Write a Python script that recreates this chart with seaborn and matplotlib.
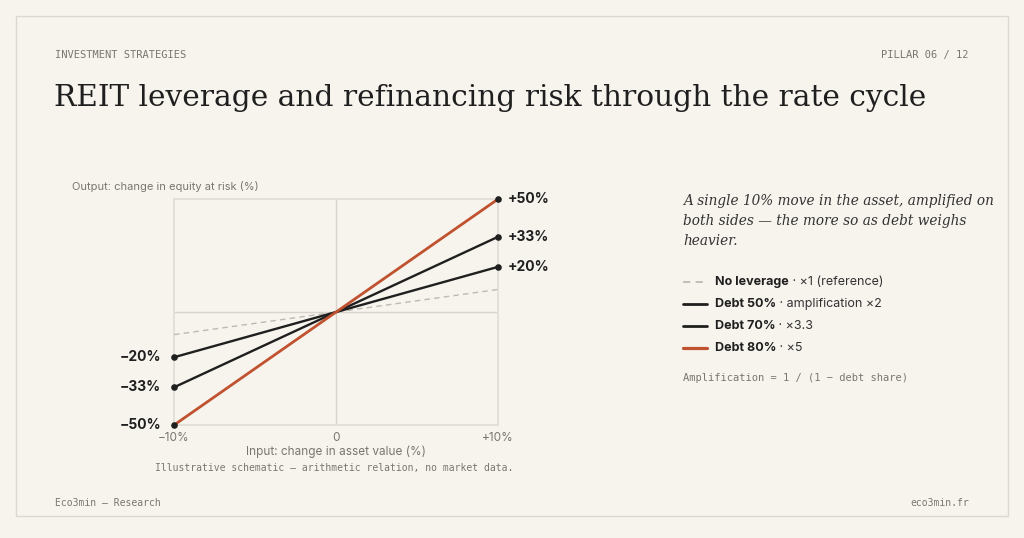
import numpy as np
import matplotlib.pyplot as plt
import seaborn as sns
import pandas as pd

# data
x_vals = [-10, 0, 10]
series_names = ["No leverage", "Debt 50%", "Debt 70%", "Debt 80%"]
multipliers = [1, 2, 3.33, 5]
end_labels = ["+20%", "+33%", "+50%"]
start_labels = ["−20%", "−33%", "−50%"]
legend_bold = ["No leverage", "Debt 50%", "Debt 70%", "Debt 80%"]
legend_rest = [" · ×1 (reference)", " · amplification ×2", " · ×3.3", " · ×5"]

BG = "#f7f4ee"
INK = "#1f1f1f"
ORANGE = "#c0522f"
GREY = "#bdbab3"
MUTED = "#7a766f"
GRID = "#d8d4cc"

sns.set_theme(style="white")
plt.rcParams["font.family"] = ["Inter", "DejaVu Sans"]

rows = []
for name, m in zip(series_names, multipliers):
    for xv in x_vals:
        rows.append({"series": name, "x": xv, "y": xv * m})
df = pd.DataFrame(rows)

fig = plt.figure(figsize=(10.24, 5.38), dpi=100, facecolor=BG)
frame = plt.Rectangle((0.016, 0.04), 0.968, 0.93, transform=fig.transFigure,
                      fill=False, edgecolor="#dcd8d0", lw=1)
fig.patches.append(frame)

ax = fig.add_axes([0.170, 0.210, 0.3164, 0.420], facecolor=BG)
colors = {"No leverage": GREY, "Debt 50%": INK, "Debt 70%": INK, "Debt 80%": ORANGE}
styles = {"No leverage": (0, (4, 3)), "Debt 50%": "-", "Debt 70%": "-", "Debt 80%": "-"}
widths = {"No leverage": 1, "Debt 50%": 1.7, "Debt 70%": 1.7, "Debt 80%": 2}
for name in series_names:
    d = df[df.series == name]
    sns.lineplot(data=d, x="x", y="y", ax=ax, color=colors[name], lw=widths[name],
                 linestyle=styles[name], zorder=3)
for name, lab_hi, lab_lo in zip(series_names[1:], end_labels, start_labels):
    d = df[df.series == name]
    ends = d[d.x != 0]
    ax.scatter(ends.x, ends.y, s=14, color=INK, zorder=4, clip_on=False)
    ax.text(10.6, ends.y.iloc[1], lab_hi, ha="left", va="center", fontsize=10,
            fontweight="bold", color=INK)
    ax.text(-10.8, ends.y.iloc[0], lab_lo, ha="right", va="center", fontsize=10,
            fontweight="bold", color=INK)

ax.axhline(0, color=GRID, lw=1, zorder=1)
ax.axvline(0, color=GRID, lw=1, zorder=1)
ax.set_xlim(-10, 10)
ax.set_ylim(-50, 50)
ax.set_xticks([-10, 0, 10], ["−10%", "0", "+10%"])
ax.set_yticks([])
ax.tick_params(axis="x", length=0, labelsize=8.5, colors=MUTED, pad=5)
for s in ax.spines.values():
    s.set_color("#e2ded6")
ax.set_xlabel("Input: change in asset value (%)", fontsize=8.5, color=MUTED, labelpad=1)
ax.set_ylabel("")
fig.text(0.070, 0.653, "Output: change in equity at risk (%)", ha="left", va="center",
         fontsize=8, color=MUTED)
fig.text(0.168 + 0.3164 / 2, 0.124, "Illustrative schematic — arithmetic relation, no market data.",
         ha="center", fontsize=7, color=MUTED, family="DejaVu Sans Mono")

# header / footer
fig.text(0.054, 0.897, "INVESTMENT STRATEGIES", fontsize=7.5, color=MUTED,
         family="DejaVu Sans Mono", va="center")
fig.text(0.946, 0.897, "PILLAR 06 / 12", fontsize=7.5, color=MUTED,
         family="DejaVu Sans Mono", va="center", ha="right")
fig.text(0.053, 0.817, "REIT leverage and refinancing risk through the rate cycle",
         fontsize=21.3, color=INK, family="DejaVu Serif", va="center")
fig.text(0.054, 0.065, "Eco3min — Research", fontsize=7, color=MUTED,
         family="DejaVu Sans Mono", va="center")
fig.text(0.946, 0.065, "eco3min.fr", fontsize=7, color=MUTED,
         family="DejaVu Sans Mono", va="center", ha="right")

# right panel
fig.text(0.667, 0.590, "A single 10% move in the asset, amplified on\nboth sides — the more so as debt weighs\nheavier.",
         fontsize=9.8, style="italic", color="#333", family="DejaVu Serif",
         va="center", linespacing=1.55)
ys = [0.476, 0.435, 0.394, 0.353]
for yy, name, b, r in zip(ys, series_names, legend_bold, legend_rest):
    fig.add_artist(plt.Line2D([0.667, 0.690], [yy, yy], transform=fig.transFigure,
                              color=colors[name], lw=widths[name] + 0.3,
                              linestyle=styles[name]))
    t = fig.text(0.698, yy, b, fontsize=9, fontweight="bold", color=INK, va="center")
    fig.canvas.draw()
    bb = t.get_window_extent()
    fig.text(bb.x1 / fig.bbox.width, yy, r, fontsize=9, color="#333", va="center")
fig.text(0.667, 0.298, "Amplification = 1 / (1 − debt share)", fontsize=7.5, color=MUTED,
         family="DejaVu Sans Mono", va="center")

fig.savefig("out.png", dpi=100, facecolor=BG)
